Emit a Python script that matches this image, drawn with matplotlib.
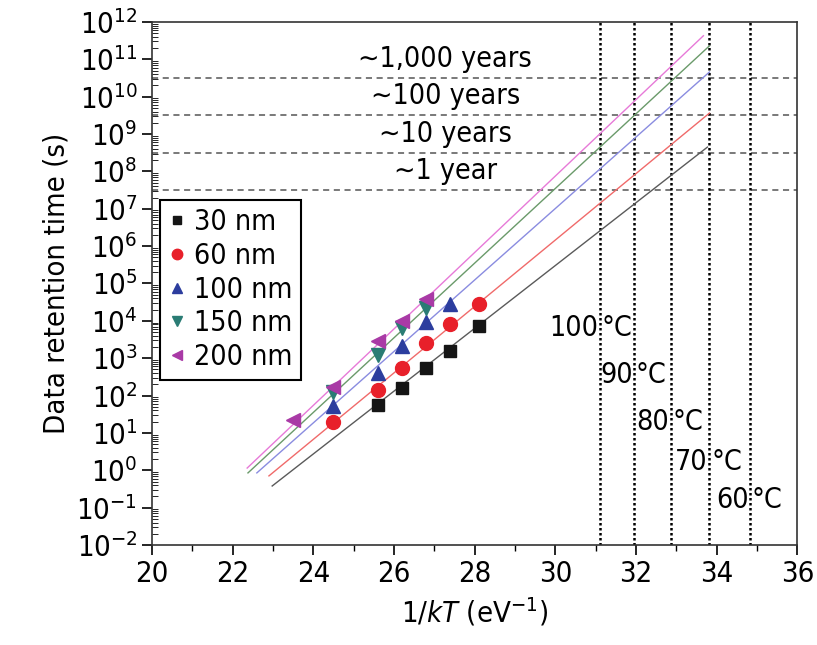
"""
Data retention time vs 1/kT for different feature sizes, with
fitted Arrhenius lines, retention targets and temperature markers.
"""

import numpy as np
import matplotlib.pyplot as plt
from matplotlib.ticker import FixedLocator, LogLocator, NullFormatter

plt.rcParams["font.family"] = ["DejaVu Sans"]
plt.rcParams["font.stretch"] = "condensed"
plt.rcParams["mathtext.fontset"] = "custom"
plt.rcParams["mathtext.rm"] = "DejaVu Sans:stretch=condensed"
plt.rcParams["mathtext.it"] = "DejaVu Sans:style=italic:stretch=condensed"

# measured points, x = 1/kT (eV^-1), y = retention time (s)
x_30 = [25.6, 26.2, 26.8, 27.4, 28.1]
y_30 = [56, 160, 550, 1550, 7200]
x_60 = [24.5, 25.6, 26.2, 26.8, 27.4, 28.1]
y_60 = [19.5, 140, 550, 2600, 8300, 28000]
x_100 = [24.5, 25.6, 26.2, 26.8, 27.4]
y_100 = [52, 400, 2100, 9300, 28000]
x_150 = [24.5, 25.6, 26.2, 26.8]
y_150 = [125, 1230, 6500, 22000]
x_200 = [23.5, 24.5, 25.6, 26.2, 26.8]
y_200 = [22, 170, 2900, 10000, 39000]

# fitted lines: start / end in 1/kT, log10(t) at start / end
fit_x0 = [22.98, 22.90, 22.60, 22.38, 22.36]
fit_x1 = [33.77, 33.82, 33.82, 33.82, 33.67]
fit_y0 = [-0.42, -0.15, -0.07, -0.07, 0.06]
fit_y1 = [8.65, 9.56, 10.66, 11.36, 11.63]

labels = ["30 nm", "60 nm", "100 nm", "150 nm", "200 nm"]
xs = [x_30, x_60, x_100, x_150, x_200]
ys = [y_30, y_60, y_100, y_150, y_200]
markers = ["s", "o", "^", "v", "<"]
msizes = [8, 10, 10, 10, 10]
mcolors = ["#151515", "#e8202a", "#2c3d9e", "#2a7c74", "#a93aa6"]
lcolors = ["#5a5a5a", "#f06a6a", "#8a8ce0", "#6a9a6a", "#e77ad8"]

# retention targets (s) and temperatures
year_s = 3.156e7
targets = [year_s, 10 * year_s, 100 * year_s, 1000 * year_s]
target_labels = ["∼1 year", "∼10 years", "∼100 years", "∼1,000 years"]
temps_c = [100, 90, 80, 70, 60]
k_B = 8.617e-5
inv_kt = [1 / (k_B * (t + 273.15)) for t in temps_c]

fig = plt.figure(figsize=(8.17, 6.45), dpi=100)
ax = fig.add_axes([0.186, 0.155, 0.79, 0.811])
ax.set_yscale("log")

for xa, xb, ya, yb, c in zip(fit_x0, fit_x1, fit_y0, fit_y1, lcolors):
    ax.plot([xa, xb], [10 ** ya, 10 ** yb], color=c, lw=1.0, zorder=2)

for x, y, m, ms, c, lab in zip(xs, ys, markers, msizes, mcolors, labels):
    ax.plot(x, y, m, ms=ms, color=c, mec=c, ls="none", label=lab, zorder=3)

for t in targets:
    ax.axhline(t, color="#555555", lw=1.1, ls=(0, (4, 3)), zorder=1)
for t_lab, t in zip(target_labels, targets):
    ax.text(27.27, t * 3.2, t_lab, ha="center", va="center", fontsize=20.5)

for v in inv_kt:
    ax.axvline(v, color="black", lw=1.8, ls=(0, (1, 1)), zorder=1)
# number to the left of its line, degree sign to the right
temp_text_y = [10 ** 3.8, 10 ** 2.55, 10 ** 1.3, 10 ** 0.22, 10 ** -0.8]
for v, ty, t in zip(inv_kt, temp_text_y, temps_c):
    ax.text(v - 0.04, ty, f"{t}", ha="right", va="center", fontsize=20.5)
    ax.text(v + 0.04, ty, "°C", ha="left", va="center", fontsize=20.5)

ax.set_xlim(20, 36)
ax.set_ylim(1e-2, 1e12)
ax.set_xticks(np.arange(20, 37, 2))
ax.xaxis.set_minor_locator(FixedLocator(np.arange(21, 36, 2)))
decades = np.arange(-2, 13)
ax.yaxis.set_major_locator(FixedLocator(10.0 ** decades))
ax.set_yticklabels([f"$10^{{{d}}}$".replace("-", "−") for d in decades])
ax.yaxis.set_minor_locator(LogLocator(base=10, subs=np.arange(2, 10), numticks=30))
ax.yaxis.set_minor_formatter(NullFormatter())
ax.tick_params(axis="both", which="major", labelsize=21, length=7, width=1.2)
ax.tick_params(axis="x", which="minor", length=4, width=1.0)
ax.tick_params(axis="y", which="minor", direction="in", length=4, width=0.6)
for s in ax.spines.values():
    s.set_linewidth(1.2)
    s.set_color("#333333")

ax.set_xlabel(r"1/$\mathit{kT}$ (eV$^{−1}$)", fontsize=21, labelpad=6)
ax.set_ylabel("Data retention time (s)", fontsize=21, labelpad=4)

leg = ax.legend(loc="upper left", bbox_to_anchor=(0.012, 0.66), fontsize=20.5,
                fancybox=False, edgecolor="black", framealpha=1,
                handlelength=0.6, handletextpad=0.3, labelspacing=0.2,
                borderpad=0.3, borderaxespad=0, markerscale=0.75)
leg.get_frame().set_linewidth(1.5)

fig.savefig("out.png", dpi=100)
print("saved out.png")
